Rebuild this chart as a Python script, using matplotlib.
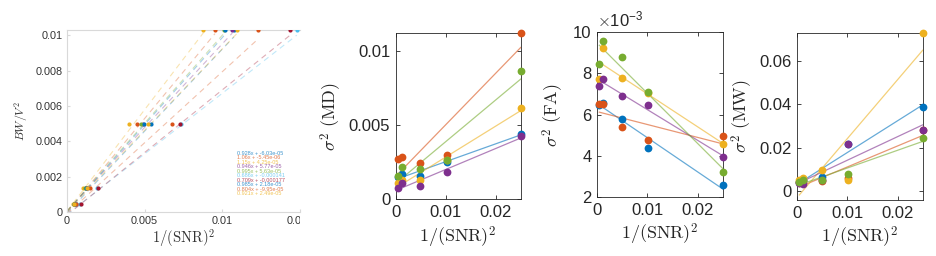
import numpy as np
import matplotlib
matplotlib.use('Agg')
import matplotlib.pyplot as plt
from matplotlib.transforms import Bbox, TransformedBbox
from matplotlib.ticker import FuncFormatter

plt.rcParams['font.family'] = ['Liberation Sans', 'DejaVu Sans']
plt.rcParams['mathtext.fontset'] = 'cm'

# matlab default colour order
mcol = ['#0072BD', '#D95319', '#EDB120', '#7E2F8E', '#77AC30', '#4DBEEE', '#A2142F']

# ---- panel 1: BW/V^2 against measured 1/SNR^2, ten series
bw_levels = [0.00045, 0.00138, 0.0050, 0.0103]
snr_x = [
    [0.00055, 0.00125, 0.00543, 0.01075],
    [0.00045, 0.00128, 0.00453, 0.00953],
    [0.00040, 0.00105, 0.00399, 0.00878],
    [0.00050, 0.00125, 0.00487, 0.01064],
    [0.00043, 0.00115, 0.00474, 0.01008],
    [0.00085, 0.00195, 0.00735, 0.01479],
    [0.00088, 0.00197, 0.00729, 0.01436],
    [0.00046, 0.00122, 0.00497, 0.01017],
    [0.00060, 0.00147, 0.00673, 0.01231],
    [0.00048, 0.00130, 0.00519, 0.01094],
]
fit_slope = [0.928, 1.06, 1.15, 0.946, 0.995, 0.686, 0.709, 0.985, 0.804, 0.921]
fit_icpt = [-6.03e-05, -5.45e-06, 4.25e-05, 5.77e-05, 5.63e-05,
            -0.000141, -0.000177, 2.18e-05, -9.95e-05, 2.49e-05]
fit_text = ['0.928x + -6.03e-05', '1.06x + -5.45e-06', '1.15x + 4.25e-05',
            '0.946x + 5.77e-05', '0.995x + 5.63e-05', '0.686x + -0.000141',
            '0.709x + -0.000177', '0.985x + 2.18e-05', '0.804x + -9.95e-05',
            '0.921x + 2.49e-05']

# ---- panels 2-4: variance vs 1/SNR^2 (blue, orange, yellow, purple, green)
inv_snr = [0.0004, 0.0012, 0.0049, 0.0102, 0.025]
md = [
    [0.00150, 0.00168, 0.00159, 0.00251, 0.00442],
    [0.00274, 0.00285, 0.00247, 0.00301, 0.01119],
    [0.00112, 0.00132, 0.00128, 0.00262, 0.00617],
    [0.00079, 0.00110, 0.00087, 0.00184, 0.00428],
    [0.00157, 0.00218, 0.00202, 0.00265, 0.00868],
]
fa = [
    [6.46e-3, 6.58e-3, 5.79e-3, 4.37e-3, 2.56e-3],
    [6.50e-3, 6.51e-3, 5.39e-3, 4.78e-3, 4.94e-3],
    [7.71e-3, 9.26e-3, 7.79e-3, 7.05e-3, 4.56e-3],
    [7.41e-3, 7.74e-3, 6.91e-3, 6.46e-3, 3.92e-3],
    [8.48e-3, 9.58e-3, 8.80e-3, 7.10e-3, 3.23e-3],
]
mw = [
    [0.0043, 0.0052, 0.0065, 0.0218, 0.0390],
    [0.0043, 0.0047, 0.0045, 0.0060, 0.0280],
    [0.0049, 0.0062, 0.0098, 0.0049, 0.0729],
    [0.0037, 0.0031, 0.0052, 0.0218, 0.0283],
    [0.0042, 0.0049, 0.0052, 0.0077, 0.0243],
]

fig = plt.figure(figsize=(9.36, 2.56), dpi=100)
xlab = r'$1/(\mathrm{SNR})^2$'

# ---------------- panel 1
ax1 = fig.add_axes([67/936, 1-212/256, 233/936, 182/256])
for k in range(10):
    c = mcol[k % 7]
    xs = snr_x[k]
    xx = np.array([0, max(xs)])
    ax1.plot(xx, fit_slope[k]*xx + fit_icpt[k], '--', color=c, lw=0.8, alpha=0.35,
             dashes=(5, 4))
    ax1.plot(xs, bw_levels, 'o', color=c, ms=3, mec='none', zorder=3)
    ax1.text(0.73, 0.324 - 0.025*k, fit_text[k], transform=ax1.transAxes,
             fontsize=4, color=c, alpha=0.75, va='center', ha='left')
ax1.set_xlim(0, 0.01494)
ax1.set_ylim(0, 0.0103)
ax1.set_xticks([0, 0.005, 0.01, 0.015])
ax1.set_xticklabels(['0', '0.005', '0.01', '0.015'])
ax1.set_yticks([0, 0.002, 0.004, 0.006, 0.008, 0.01])
ax1.set_yticklabels(['0', '0.002', '0.004', '0.006', '0.008', '0.01'])
for s in ax1.spines.values():
    s.set_color('#d9d9d9')
ax1.spines['right'].set_visible(False)
ax1.tick_params(labelsize=7.8, colors='#d9d9d9', labelcolor='#333333', length=2,
                direction='in', pad=3)
ax1.set_xlabel(xlab, fontsize=10.5, color='#333333', labelpad=1)
ax1.set_ylabel(r'$BW/V^2$', fontsize=8.5, color='#333333', labelpad=4)
clip = TransformedBbox(Bbox([[0, 0], [300/936, 1]]), fig.transFigure)
for lab in ax1.get_xticklabels():
    lab.set_clip_box(clip)
    lab.set_clip_on(True)


def draw(ax, ys):
    for k, y in enumerate(ys):
        c = mcol[k]
        p = np.polyfit(inv_snr, y, 1)
        xx = np.array([min(inv_snr), max(inv_snr)])
        ax.plot(xx, np.polyval(p, xx), '-', color=c, lw=0.9, alpha=0.6, zorder=2)
        ax.plot(inv_snr, y, 'o', color=c, ms=5.6, mec='none', zorder=3, clip_on=False)
    ax.set_xlim(0, 0.025)
    ax.set_xticks([0, 0.01, 0.02])
    ax.set_xticklabels(['0', '0.01', '0.02'])
    for s in ax.spines.values():
        s.set_color('#262626')
        s.set_linewidth(0.6)
    ax.tick_params(labelsize=12, colors='#262626', direction='in', length=3,
                   top=True, right=True, width=0.6, pad=4)
    ax.set_xlabel(xlab, fontsize=13, color='#262626', labelpad=3)


ax2 = fig.add_axes([395.7/936, 1-199.3/256, 125/936, 166/256])
draw(ax2, md)
ax2.set_ylim(0, 0.0112)
ax2.set_yticks([0, 0.005, 0.01])
ax2.set_yticklabels(['0', '0.005', '0.01'])
ax2.set_ylabel(r'$\sigma^2\ (\mathrm{MD})$', fontsize=13, color='#262626', labelpad=3)

ax3 = fig.add_axes([597.3/936, 1-197/256, 125.4/936, 164.7/256])
draw(ax3, fa)
ax3.set_ylim(2e-3, 10e-3)
ax3.set_yticks([2e-3, 4e-3, 6e-3, 8e-3, 10e-3])
ax3.yaxis.set_major_formatter(FuncFormatter(lambda v, _: '%g' % round(v*1e3, 3)))
ax3.set_ylabel(r'$\sigma^2\ (\mathrm{FA})$', fontsize=13, color='#262626', labelpad=5)
ax3.text(0.0, 1.02, r'$\times\mathregular{10^{-3}}$', transform=ax3.transAxes,
         fontsize=12, color='#262626', ha='left', va='bottom')

ax4 = fig.add_axes([797.3/936, 1-200/256, 125.4/936, 166.7/256])
draw(ax4, mw)
ax4.set_ylim(-0.0042, 0.0729)
ax4.set_yticks([0, 0.02, 0.04, 0.06])
ax4.set_yticklabels(['0', '0.02', '0.04', '0.06'])
ax4.set_ylabel(r'$\sigma^2\ (\mathrm{MW})$', fontsize=13, color='#262626', labelpad=3)

fig.savefig('out.png', dpi=100)
